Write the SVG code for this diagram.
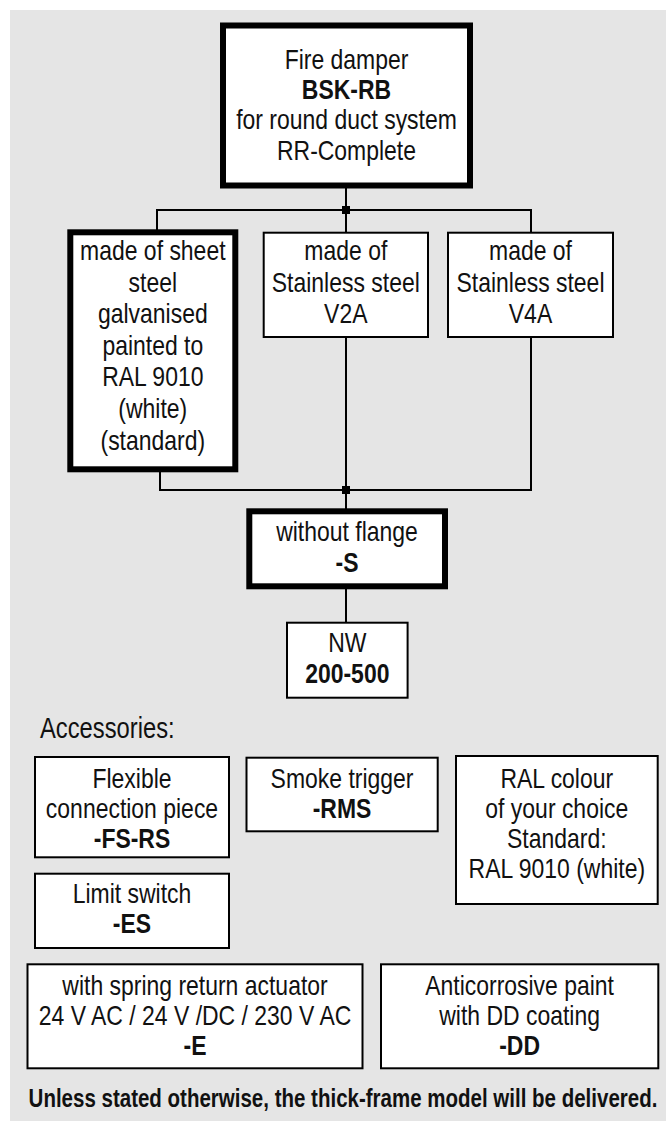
<svg xmlns="http://www.w3.org/2000/svg" width="666" height="1121" viewBox="0 0 666 1121">
<style>
.t{font-family:"Liberation Sans",Arial,sans-serif;font-size:28px;text-anchor:middle;fill:#111}
.b{font-weight:bold}
.thick{fill:#fff;stroke:#000;stroke-width:6}
.thin{fill:#fff;stroke:#000;stroke-width:2}
#connectors line{stroke:#000;stroke-width:2}
#connectors rect{fill:#000}
</style>
<rect x="10" y="10" width="656" height="1111" fill="#e5e5e5"/>
<g id="connectors">
<line x1="346" y1="188" x2="346" y2="210"/>
<line x1="157" y1="210" x2="531" y2="210"/>
<line x1="157" y1="209" x2="157" y2="230"/>
<line x1="346" y1="209" x2="346" y2="232"/>
<line x1="531" y1="209" x2="531" y2="232"/>
<rect x="342" y="206" width="8" height="8"/>
<line x1="160" y1="471" x2="160" y2="491"/>
<line x1="346" y1="337" x2="346" y2="491"/>
<line x1="531" y1="337" x2="531" y2="491"/>
<line x1="160" y1="490" x2="531" y2="490"/>
<rect x="342" y="486" width="8" height="8"/>
<line x1="346" y1="490" x2="346" y2="509"/>
<line x1="346" y1="588" x2="346" y2="622"/>
</g>
<g id="n-top">
<rect class="thick" x="223" y="25.5" width="247" height="160"/>
<g transform="translate(346.5,0) scale(0.82,1)">
<text class="t" x="0" y="69">Fire damper</text>
<text class="t b" x="0" y="99.5">BSK-RB</text>
<text class="t" x="0" y="129.5">for round duct system</text>
<text class="t" x="0" y="160">RR-Complete</text>
</g>
</g>
<g id="n-galv">
<rect class="thick" x="70.3" y="232.3" width="165" height="237"/>
<g transform="translate(152.8,0) scale(0.82,1)">
<text class="t" x="0" y="260">made of sheet</text>
<text class="t" x="0" y="291.6">steel</text>
<text class="t" x="0" y="323.2">galvanised</text>
<text class="t" x="0" y="354.8">painted to</text>
<text class="t" x="0" y="386.4">RAL 9010</text>
<text class="t" x="0" y="418">(white)</text>
<text class="t" x="0" y="449.6">(standard)</text>
</g>
</g>
<g id="n-v2a">
<rect class="thin" x="263.7" y="232.7" width="164.3" height="104.3"/>
<g transform="translate(345.8,0) scale(0.82,1)">
<text class="t" x="0" y="260">made of</text>
<text class="t" x="0" y="291.6">Stainless steel</text>
<text class="t" x="0" y="323.2">V2A</text>
</g>
</g>
<g id="n-v4a">
<rect class="thin" x="448" y="232.7" width="165" height="104.3"/>
<g transform="translate(530.5,0) scale(0.82,1)">
<text class="t" x="0" y="260">made of</text>
<text class="t" x="0" y="291.6">Stainless steel</text>
<text class="t" x="0" y="323.2">V4A</text>
</g>
</g>
<g id="n-flange">
<rect class="thick" x="249.3" y="511.3" width="195.7" height="75"/>
<g transform="translate(347,0) scale(0.82,1)">
<text class="t" x="0" y="540.7">without flange</text>
<text class="t b" x="0" y="571.7">-S</text>
</g>
</g>
<g id="n-nw">
<rect class="thin" x="287" y="622.7" width="120.6" height="75"/>
<g transform="translate(347.3,0) scale(0.82,1)">
<text class="t" x="0" y="651.7">NW</text>
<text class="t b" x="0" y="682.7">200-500</text>
</g>
</g>
<g transform="translate(40,0) scale(0.82,1)">
<text class="t" x="0" y="738.3" style="text-anchor:start;font-size:29px">Accessories:</text>
</g>
<g id="n-fs">
<rect class="thin" x="35" y="757" width="194" height="100.3"/>
<g transform="translate(132,0) scale(0.82,1)">
<text class="t" x="0" y="787.7">Flexible</text>
<text class="t" x="0" y="818.3">connection piece</text>
<text class="t b" x="0" y="848.3">-FS-RS</text>
</g>
</g>
<g id="n-rms">
<rect class="thin" x="246.5" y="757.7" width="191.2" height="73.6"/>
<g transform="translate(342,0) scale(0.82,1)">
<text class="t" x="0" y="787.7">Smoke trigger</text>
<text class="t b" x="0" y="818.3">-RMS</text>
</g>
</g>
<g id="n-ral">
<rect class="thin" x="456" y="756" width="201.7" height="148"/>
<g transform="translate(556.8,0) scale(0.82,1)">
<text class="t" x="0" y="787.7">RAL colour</text>
<text class="t" x="0" y="818.3">of your choice</text>
<text class="t" x="0" y="848.3">Standard:</text>
<text class="t" x="0" y="878.3">RAL 9010 (white)</text>
</g>
</g>
<g id="n-es">
<rect class="thin" x="35" y="873.7" width="194" height="74.3"/>
<g transform="translate(132,0) scale(0.82,1)">
<text class="t" x="0" y="903.3">Limit switch</text>
<text class="t b" x="0" y="933.3">-ES</text>
</g>
</g>
<g id="n-e">
<rect class="thin" x="27.5" y="964.3" width="335" height="104"/>
<g transform="translate(195,0) scale(0.82,1)">
<text class="t" x="0" y="995">with spring return actuator</text>
<text class="t" x="0" y="1025">24 V AC / 24 V /DC / 230 V AC</text>
<text class="t b" x="0" y="1055">-E</text>
</g>
</g>
<g id="n-dd">
<rect class="thin" x="381" y="964.3" width="277.3" height="104"/>
<g transform="translate(519.6,0) scale(0.82,1)">
<text class="t" x="0" y="995">Anticorrosive paint</text>
<text class="t" x="0" y="1025">with DD coating</text>
<text class="t b" x="0" y="1055">-DD</text>
</g>
</g>
<g transform="translate(343,0) scale(0.82,1)">
<text class="t b" x="0" y="1107.5" style="font-size:25px">Unless stated otherwise, the thick-frame model will be delivered.</text>
</g>
</svg>
